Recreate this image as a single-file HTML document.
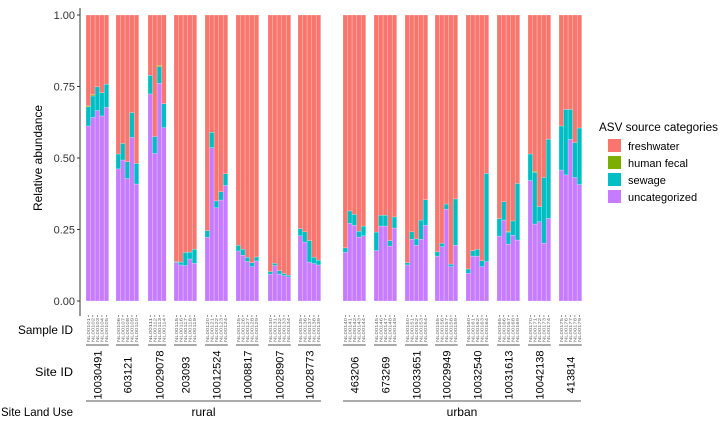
<!DOCTYPE html>
<html><head><meta charset="utf-8"><style>
body{margin:0;background:#fff;}
svg{display:block;font-family:"Liberation Sans",Arial,sans-serif;}
</style></head><body>
<svg id="chart" width="720" height="422" viewBox="0 0 720 422">
<g id="plot"></g>
<g id="axes"></g>
<g id="legend">
<text x="599" y="131" font-size="11.5" textLength="119" lengthAdjust="spacingAndGlyphs" fill="#000">ASV source categories</text>
<rect x="608" y="139" width="13" height="13" fill="#F8766D"/>
<text x="628" y="150" font-size="11">freshwater</text>
<rect x="608" y="156" width="13" height="13" fill="#7CAE00"/>
<text x="628" y="167" font-size="11">human fecal</text>
<rect x="608" y="173" width="13" height="13" fill="#00BFC4"/>
<text x="628" y="184" font-size="11">sewage</text>
<rect x="608" y="190" width="13" height="13" fill="#C77CFF"/>
<text x="628" y="201" font-size="11">uncategorized</text>
</g>
</svg>
<script>
const sites = ["10030491","603121","10029078","203093","10012524","10008817","10028907","10028773","463206","673269","10033651","10029949","10032540","10031613","10042138","413814"];
const landUse = ["rural","rural","rural","rural","rural","rural","rural","rural","urban","urban","urban","urban","urban","urban","urban","urban"];
const uncategorized = [
[0.612,0.642,0.666,0.647,0.677],[0.462,0.493,0.428,0.572,0.409],[0.724,0.516,0.761,0.606],[0.135,0.126,0.124,0.147,0.132],
[0.223,0.536,0.326,0.353,0.404],[0.175,0.160,0.138,0.120,0.140],[0.094,0.124,0.094,0.089,0.084],[0.228,0.206,0.136,0.131,0.126],
[0.170,0.272,0.265,0.223,0.228],[0.176,0.262,0.262,0.192,0.255],[0.126,0.216,0.195,0.216,0.265],[0.157,0.190,0.321,0.120,0.195],
[0.097,0.157,0.157,0.120,0.138],[0.227,0.283,0.199,0.230,0.213],[0.421,0.269,0.277,0.202,0.289],[0.458,0.441,0.565,0.432,0.407]];
const sewage = [
[0.067,0.075,0.083,0.081,0.081],[0.052,0.058,0.059,0.087,0.072],[0.065,0.059,0.058,0.084],[0.003,0.010,0.046,0.024,0.049],
[0.023,0.054,0.024,0.029,0.041],[0.020,0.021,0.015,0.014,0.014],[0.009,0.008,0.012,0.007,0.006],[0.025,0.036,0.075,0.022,0.017],
[0.016,0.043,0.038,0.021,0.034],[0.065,0.038,0.038,0.019,0.039],[0.008,0.026,0.022,0.067,0.089],[0.015,0.012,0.018,0.009,0.162],
[0.015,0.019,0.024,0.021,0.308],[0.061,0.064,0.042,0.050,0.198],[0.093,0.181,0.053,0.230,0.277],[0.154,0.229,0.105,0.122,0.198]];
const humanFecal = [
[0.003,0.004,0,0,0],[0,0,0,0,0],[0,0,0.005,0],[0,0,0,0,0],[0,0,0,0,0],[0,0,0,0,0],[0,0,0,0,0],[0,0,0,0,0],
[0,0,0,0,0],[0,0,0,0,0],[0,0,0,0,0],[0,0,0,0,0],[0,0,0,0,0],[0,0,0.003,0,0],[0,0.004,0,0,0],[0,0,0,0,0]];
const yTicks = [0,0.25,0.5,0.75,1];
const yTickLabels = ["0.00","0.25","0.50","0.75","1.00"];

const NS="http://www.w3.org/2000/svg";
const Y0=301, Y1=15;
function y(v){return Y0-(Y0-Y1)*v;}
const groupStart=[86,116,148,174,205,236,268,298,343,374,405,435,466,497,528,559];
function gx(i){return groupStart[i];}
const BW=4.55;
function mk(tag,attrs,parent){const e=document.createElementNS(NS,tag);for(const k in attrs)e.setAttribute(k,attrs[k]);parent.appendChild(e);return e;}
const plot=document.getElementById('plot'), axes=document.getElementById('axes');
let sid=1;
sites.forEach((s,i)=>{
  const g=mk('g',{},plot);
  
  
  const n=uncategorized[i].length;
  for(let j=0;j<n;j++){
    const x=gx(i)+j*BW;
    const u=uncategorized[i][j], sw=sewage[i][j], hf=humanFecal[i][j];
    const segs=[[0,u,'#C77CFF','uncategorized'],[u,u+sw,'#00BFC4','sewage'],[u+sw,u+sw+hf,'#7CAE00','human-fecal'],[u+sw+hf,1,'#F8766D','freshwater']];
    segs.forEach(sg=>{
      if(sg[1]-sg[0]<=0)return;
      const r=mk('rect',{x:x,y:y(sg[1]),width:BW,height:y(sg[0])-y(sg[1]),fill:sg[2],stroke:'#fff','stroke-opacity':0.45,'stroke-width':0.5},g);
      
      
    });
    const tx=x+BW/2;
    mk('line',{x1:tx,x2:tx,y1:315,y2:317,stroke:'#333','stroke-width':0.5},axes);
    const t=mk('text',{x:0,y:0,'font-size':4.4,fill:'#666',textLength:24,lengthAdjust:'spacingAndGlyphs',transform:`translate(${tx+1.5},342) rotate(-90)`},axes);
    t.textContent='NL00'+String(100+sid++);
    
    
  }
  const w=n*BW, cx=gx(i)+w/2;
  mk('line',{x1:gx(i),x2:gx(i)+(n===4?18.2:22.75),y1:345,y2:345,stroke:'#555','stroke-width':1},axes);
  const st=mk('text',{x:0,y:0,'font-size':11,fill:'#000','text-anchor':'middle',transform:`translate(${(n===4?gx(i)+11.4:cx)+4},375) rotate(-90)`},axes);
  st.textContent=s;
  
  
});
[["rural",86,321],["urban",343,581]].forEach(d=>{
  mk('line',{x1:d[1],x2:d[2],y1:401,y2:401,stroke:'#555','stroke-width':1},axes);
  const t=mk('text',{x:(d[1]+d[2])/2,y:416,'font-size':12,'text-anchor':'middle'},axes);
  t.textContent=d[0];
  
  
});
const ax=mk('line',{x1:80,x2:80,y1:8,y2:316,stroke:'#333','stroke-width':1},axes);


yTicks.forEach((v,k)=>{
  mk('line',{x1:77,x2:80,y1:y(v),y2:y(v),stroke:'#333','stroke-width':1},axes);
  const t=mk('text',{x:75,y:y(v)+4,'font-size':11,'text-anchor':'end',fill:'#333'},axes);
  t.textContent=yTickLabels[k];
  
  
});
const yt=mk('text',{x:0,y:0,'font-size':12,'text-anchor':'middle',transform:'translate(42,158) rotate(-90)'},axes);
yt.textContent='Relative abundance';


[["Sample ID",73,334,55],["Site ID",73,376,38],["Site Land Use",73,416,72]].forEach(d=>{
  const t=mk('text',{x:d[1],y:d[2],'font-size':12,'text-anchor':'end',textLength:d[3],lengthAdjust:'spacingAndGlyphs'},axes);
  t.textContent=d[0];
  
  
});
</script>
</body></html>
